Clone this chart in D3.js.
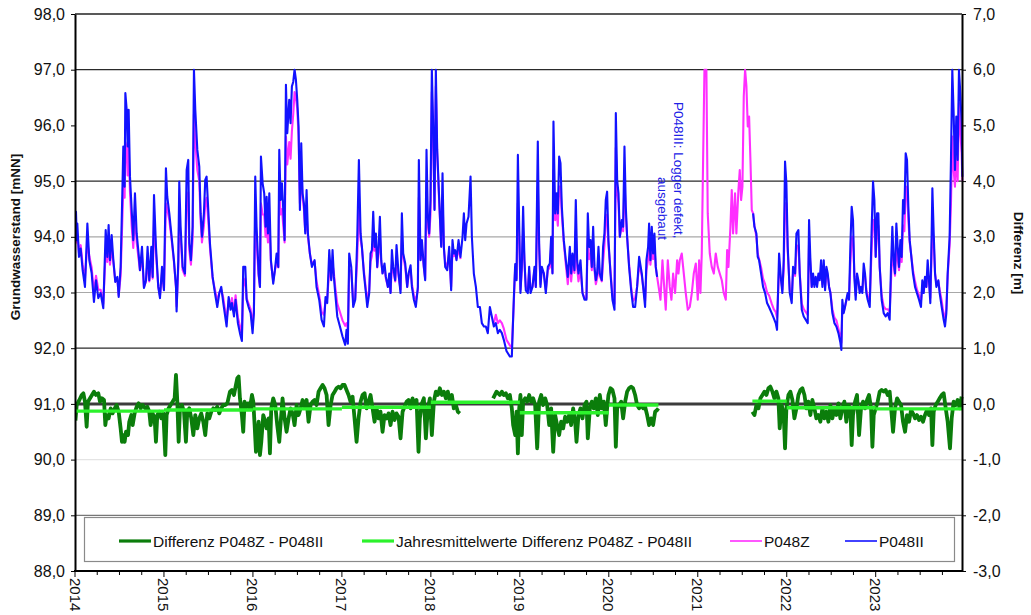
<!DOCTYPE html>
<html><head><meta charset="utf-8">
<script src="https://cdn.jsdelivr.net/npm/d3@7"></script>
<style>body{margin:0;background:#fff}svg{display:block;font-family:Arial,"Liberation Sans",sans-serif}</style>
</head><body><svg id="c" width="1031" height="615"></svg>
<script>
// ---------------- DATA ----------------
const leftTicks = [88,89,90,91,92,93,94,95,96,97,98];
const rightTicks = [-3,-2,-1,0,1,2,3,4,5,6,7];
const yearTicks = [2014,2015,2016,2017,2018,2019,2020,2021,2022,2023];
const leftTitle = "Grundwasserstand [mNN]";
const rightTitle = "Differenz [m]";
const legendLabels = ["Differenz P048Z - P048II","Jahresmittelwerte Differenz P048Z - P048II","P048Z","P048II"];
const noteLines = ["P048III: Logger defekt,","ausgebaut"];

// P048II (blue), [decimal year, mNN]
const p048II = [
[2014.000,93.90],[2014.011,94.45],[2014.020,93.94],[2014.026,94.24],[2014.045,93.64],[2014.064,93.79],[2014.086,93.40],[2014.112,93.10],[2014.139,94.24],[2014.161,93.58],[2014.187,93.35],[2014.213,92.83],[2014.236,93.22],[2014.262,92.90],[2014.288,92.99],[2014.318,92.72],[2014.345,94.12],[2014.363,93.64],[2014.378,94.21],[2014.393,93.58],[2014.412,94.03],[2014.431,93.58],[2014.453,93.19],[2014.476,93.28],[2014.491,92.92],[2014.513,93.46],[2014.532,94.78],[2014.543,95.62],[2014.558,94.90],[2014.566,96.58],[2014.581,96.28],[2014.592,95.62],[2014.603,96.28],[2014.618,95.08],[2014.637,94.48],[2014.655,93.94],[2014.674,94.78],[2014.693,94.06],[2014.715,93.70],[2014.730,93.40],[2014.753,93.82],[2014.775,93.08],[2014.798,93.22],[2014.816,93.82],[2014.835,93.22],[2014.858,93.82],[2014.873,93.28],[2014.888,94.75],[2014.910,93.82],[2014.936,93.10],[2014.955,92.90],[2014.978,93.46],
[2015.000,93.04],[2015.022,95.23],[2015.037,94.72],[2015.060,94.42],[2015.086,94.00],[2015.112,93.58],[2015.135,93.10],[2015.142,92.66],[2015.161,93.58],[2015.172,94.99],[2015.187,94.18],[2015.210,93.46],[2015.236,93.34],[2015.255,95.20],[2015.273,95.38],[2015.285,93.88],[2015.303,93.58],[2015.322,94.18],[2015.337,97.00],[2015.352,96.28],[2015.375,95.56],[2015.397,95.26],[2015.412,94.42],[2015.427,94.00],[2015.449,94.42],[2015.464,95.02],[2015.479,95.08],[2015.498,94.48],[2015.517,93.88],[2015.547,93.28],[2015.573,92.99],[2015.599,92.74],[2015.622,92.99],[2015.644,93.10],[2015.667,92.81],[2015.704,92.39],[2015.727,92.92],[2015.749,92.69],[2015.764,92.81],[2015.787,92.57],[2015.805,92.87],[2015.831,92.45],[2015.854,92.27],[2015.876,92.13],[2015.891,93.46],[2015.914,93.46],[2015.929,92.87],[2015.951,92.74],[2015.974,92.63],[2015.996,92.27],
[2016.011,92.63],[2016.026,95.08],[2016.041,94.18],[2016.064,93.34],[2016.079,93.10],[2016.090,95.44],[2016.109,94.96],[2016.127,94.78],[2016.142,94.18],[2016.154,94.72],[2016.169,94.06],[2016.184,94.78],[2016.202,93.58],[2016.228,93.16],[2016.247,93.40],[2016.266,93.70],[2016.285,93.46],[2016.296,95.56],[2016.311,94.66],[2016.326,94.96],[2016.341,94.48],[2016.356,93.94],[2016.371,96.73],[2016.386,95.86],[2016.408,96.46],[2016.423,96.04],[2016.438,96.70],[2016.453,96.78],[2016.468,97.00],[2016.483,96.82],[2016.498,96.46],[2016.513,95.98],[2016.528,94.48],[2016.543,95.68],[2016.558,94.78],[2016.573,94.60],[2016.588,94.06],[2016.603,94.84],[2016.618,94.06],[2016.640,93.70],[2016.663,93.46],[2016.678,93.52],[2016.693,93.58],[2016.715,93.10],[2016.745,92.87],[2016.772,92.51],[2016.798,92.39],[2016.816,92.92],[2016.835,92.81],[2016.858,93.76],[2016.880,93.22],[2016.895,93.76],[2016.910,93.28],[2016.925,92.99],[2016.948,92.57],[2016.978,92.39],
[2017.007,92.21],[2017.037,92.06],[2017.052,92.33],[2017.067,92.08],[2017.082,93.70],[2017.105,93.46],[2017.127,92.74],[2017.150,92.87],[2017.172,93.94],[2017.191,95.38],[2017.210,94.06],[2017.225,93.82],[2017.247,93.34],[2017.270,92.99],[2017.285,92.74],[2017.307,92.99],[2017.322,93.70],[2017.337,93.76],[2017.352,94.45],[2017.367,93.82],[2017.382,94.06],[2017.397,93.46],[2017.412,93.82],[2017.427,94.36],[2017.442,93.58],[2017.457,93.34],[2017.479,93.52],[2017.494,93.28],[2017.517,93.10],[2017.532,93.34],[2017.547,92.99],[2017.562,93.76],[2017.577,93.46],[2017.599,93.22],[2017.614,93.85],[2017.637,93.34],[2017.659,92.99],[2017.674,94.42],[2017.689,93.70],[2017.712,93.52],[2017.734,93.10],[2017.749,93.34],[2017.772,93.49],[2017.787,93.10],[2017.809,92.87],[2017.831,92.74],[2017.854,93.10],[2017.865,95.38],[2017.884,93.58],[2017.899,93.94],[2017.921,93.46],[2017.936,93.22],[2017.951,95.56],[2017.966,94.36],[2017.981,94.06],[2017.996,94.66],
[2018.011,97.00],[2018.026,95.98],[2018.041,94.48],[2018.056,97.00],[2018.071,95.56],[2018.094,94.66],[2018.116,93.82],[2018.131,95.14],[2018.146,93.82],[2018.161,93.46],[2018.184,93.40],[2018.206,93.82],[2018.228,93.04],[2018.243,93.94],[2018.258,93.70],[2018.273,93.76],[2018.288,93.58],[2018.311,93.94],[2018.333,93.64],[2018.356,94.00],[2018.371,94.42],[2018.386,93.94],[2018.401,94.24],[2018.423,94.36],[2018.446,95.08],[2018.461,94.00],[2018.483,93.34],[2018.506,93.10],[2018.528,92.74],[2018.551,92.74],[2018.573,92.45],[2018.596,92.39],[2018.618,92.39],[2018.640,92.27],[2018.663,92.74],[2018.685,92.57],[2018.708,92.39],[2018.730,92.45],[2018.753,92.27],[2018.775,92.33],[2018.798,92.27],[2018.820,92.15],[2018.850,91.95],[2018.888,91.85],[2018.910,91.85],[2018.933,92.92],[2018.948,93.51],[2018.963,93.22],[2018.978,95.47],[2018.993,94.18],
[2019.007,92.99],[2019.022,93.46],[2019.037,94.54],[2019.052,93.58],[2019.067,93.04],[2019.090,92.99],[2019.105,93.46],[2019.120,92.99],[2019.142,93.10],[2019.165,93.46],[2019.180,93.10],[2019.202,95.71],[2019.217,93.88],[2019.232,93.10],[2019.247,93.46],[2019.270,93.34],[2019.292,92.99],[2019.315,93.46],[2019.337,93.52],[2019.352,94.00],[2019.367,93.34],[2019.378,96.07],[2019.397,94.42],[2019.412,94.78],[2019.427,94.42],[2019.442,95.44],[2019.457,95.32],[2019.472,94.54],[2019.494,93.94],[2019.517,93.58],[2019.539,93.28],[2019.562,93.82],[2019.577,93.34],[2019.592,93.70],[2019.614,93.40],[2019.629,94.66],[2019.644,93.58],[2019.659,93.34],[2019.682,93.58],[2019.704,92.99],[2019.727,92.87],[2019.749,92.87],[2019.764,94.42],[2019.779,93.82],[2019.794,93.94],[2019.809,93.46],[2019.824,94.18],[2019.839,93.46],[2019.854,93.22],[2019.869,93.34],[2019.884,93.82],[2019.899,93.34],[2019.921,93.22],[2019.936,93.82],[2019.951,94.06],[2019.966,94.66],[2019.981,94.81],[2019.996,93.94],
[2020.019,93.34],[2020.041,92.87],[2020.064,92.69],[2020.079,96.22],[2020.094,95.02],[2020.109,94.78],[2020.124,94.00],[2020.146,94.30],[2020.161,94.18],[2020.176,95.62],[2020.191,94.54],[2020.206,94.00],[2020.228,93.46],[2020.251,93.04],[2020.273,92.74],[2020.296,92.74],[2020.318,93.10],[2020.341,93.64],[2020.371,93.34],[2020.386,93.10],[2020.408,92.74],[2020.423,93.58],[2020.442,93.82],[2020.453,94.24],[2020.468,93.58],[2020.483,94.18],[2020.498,93.70],[2020.513,94.06],[2020.528,93.46],[2020.543,93.28],[2020.560,null],
[2021.622,94.42],[2021.637,94.18],[2021.659,94.06],[2021.674,93.64],[2021.689,93.58],[2021.712,93.34],[2021.734,93.10],[2021.757,92.99],[2021.779,92.81],[2021.801,92.74],[2021.831,92.63],[2021.854,92.54],[2021.876,92.45],[2021.891,92.33],[2021.914,93.70],[2021.936,93.22],[2021.951,92.99],[2021.966,93.58],[2021.981,95.35],[2021.996,94.96],
[2022.011,93.82],[2022.034,92.99],[2022.056,92.81],[2022.071,93.46],[2022.094,93.34],[2022.109,94.06],[2022.131,94.12],[2022.146,93.34],[2022.169,92.69],[2022.191,92.57],[2022.213,92.51],[2022.236,92.45],[2022.251,94.30],[2022.266,93.58],[2022.281,93.10],[2022.296,93.34],[2022.311,93.10],[2022.326,93.28],[2022.341,93.10],[2022.356,93.34],[2022.371,93.22],[2022.386,93.58],[2022.401,93.10],[2022.416,93.58],[2022.431,93.04],[2022.446,93.46],[2022.461,93.34],[2022.476,93.10],[2022.491,92.99],[2022.513,92.63],[2022.536,92.45],[2022.558,92.39],[2022.581,92.27],[2022.603,92.10],[2022.614,91.97],[2022.625,92.87],[2022.640,92.63],[2022.655,92.74],[2022.670,92.87],[2022.685,92.99],[2022.700,92.87],[2022.715,93.82],[2022.730,94.54],[2022.745,94.30],[2022.760,93.28],[2022.775,92.87],[2022.790,93.34],[2022.805,93.22],[2022.820,92.99],[2022.835,93.10],[2022.850,92.99],[2022.865,93.52],[2022.880,93.34],[2022.895,92.99],[2022.910,92.87],[2022.933,92.74],[2022.955,94.18],[2022.970,94.99],[2022.985,94.66],
[2023.000,93.64],[2023.015,94.42],[2023.030,94.42],[2023.045,93.46],[2023.067,92.87],[2023.090,92.63],[2023.112,92.57],[2023.135,92.63],[2023.157,92.51],[2023.172,93.46],[2023.187,94.18],[2023.202,93.58],[2023.217,93.34],[2023.232,94.24],[2023.247,93.82],[2023.262,93.46],[2023.277,93.94],[2023.292,93.64],[2023.307,94.66],[2023.322,94.42],[2023.337,95.50],[2023.352,95.38],[2023.367,94.54],[2023.382,93.94],[2023.397,93.70],[2023.419,93.34],[2023.442,93.10],[2023.464,92.99],[2023.487,92.87],[2023.509,92.74],[2023.524,93.22],[2023.539,92.99],[2023.554,93.28],[2023.569,93.10],[2023.584,93.58],[2023.599,93.22],[2023.614,92.81],[2023.629,94.06],[2023.637,94.87],[2023.652,94.06],[2023.667,93.34],[2023.682,93.10],[2023.704,93.22],[2023.719,92.99],[2023.742,92.74],[2023.764,92.51],[2023.779,92.39],[2023.794,92.63],[2023.809,93.34],[2023.831,94.00],[2023.846,95.38],[2023.861,97.00],[2023.876,96.22],[2023.891,95.20],[2023.906,96.16],[2023.921,95.38],[2023.936,97.00],[2023.951,96.58],[2023.966,96.04],[2023.974,95.08]
];

// P048Z (magenta), [decimal year, mNN]
const p048Z = [
[2014.000,93.85],[2014.011,94.10],[2014.020,93.90],[2014.026,94.05],[2014.045,93.70],[2014.064,93.85],[2014.086,93.50],[2014.112,93.25],[2014.139,93.90],[2014.161,93.65],[2014.187,93.45],[2014.213,93.00],[2014.236,93.30],[2014.262,93.05],[2014.288,93.05],[2014.318,92.80],[2014.345,93.75],[2014.363,93.55],[2014.378,93.95],[2014.393,93.50],[2014.412,93.80],[2014.431,93.55],[2014.453,93.20],[2014.476,93.25],[2014.491,92.95],[2014.513,93.30],[2014.532,94.30],[2014.543,94.90],[2014.558,94.70],[2014.566,95.70],[2014.581,95.60],[2014.592,95.10],[2014.603,95.60],[2014.618,94.80],[2014.637,94.20],[2014.655,93.80],[2014.674,94.40],[2014.693,93.90],[2014.715,93.60],[2014.730,93.40],[2014.753,93.65],[2014.775,93.10],[2014.798,93.20],[2014.816,93.60],[2014.835,93.20],[2014.858,93.60],[2014.873,93.25],[2014.888,94.30],[2014.910,93.70],[2014.936,93.10],[2014.955,92.95],[2014.978,93.35],
[2015.000,93.05],[2015.022,94.60],[2015.037,94.50],[2015.060,94.30],[2015.086,93.95],[2015.112,93.55],[2015.135,93.10],[2015.142,92.75],[2015.161,93.45],[2015.172,94.40],[2015.187,94.00],[2015.210,93.40],[2015.236,93.30],[2015.255,94.60],[2015.273,94.80],[2015.285,93.75],[2015.303,93.50],[2015.322,93.95],[2015.337,96.20],[2015.352,95.70],[2015.375,95.20],[2015.397,95.00],[2015.412,94.30],[2015.427,93.90],[2015.449,94.20],[2015.464,94.60],[2015.479,94.70],[2015.498,94.30],[2015.517,93.80],[2015.547,93.25],[2015.573,93.05],[2015.599,92.85],[2015.622,93.00],[2015.644,93.05],[2015.667,92.90],[2015.704,92.50],[2015.727,92.85],[2015.749,92.75],[2015.764,92.90],[2015.787,92.65],[2015.805,92.95],[2015.831,92.55],[2015.854,92.40],[2015.876,92.20],[2015.891,93.10],[2015.914,93.25],[2015.929,92.90],[2015.951,92.80],[2015.974,92.70],[2015.996,92.40],
[2016.011,92.70],[2016.026,94.40],[2016.041,93.90],[2016.064,93.30],[2016.079,93.10],[2016.090,94.60],[2016.109,94.40],[2016.127,94.40],[2016.142,94.00],[2016.154,94.20],[2016.169,93.90],[2016.184,94.30],[2016.202,93.55],[2016.228,93.20],[2016.247,93.40],[2016.266,93.55],[2016.285,93.45],[2016.296,94.90],[2016.311,94.40],[2016.326,94.50],[2016.341,94.20],[2016.356,93.90],[2016.371,95.80],[2016.386,95.30],[2016.408,95.70],[2016.423,95.40],[2016.438,95.90],[2016.453,96.20],[2016.468,96.60],[2016.483,96.50],[2016.498,96.30],[2016.513,95.80],[2016.528,94.60],[2016.543,95.20],[2016.558,94.70],[2016.573,94.50],[2016.588,94.10],[2016.603,94.40],[2016.618,94.00],[2016.640,93.70],[2016.663,93.50],[2016.678,93.55],[2016.693,93.55],[2016.715,93.20],[2016.745,92.95],[2016.772,92.65],[2016.798,92.60],[2016.816,92.85],[2016.835,92.90],[2016.858,93.40],[2016.880,93.25],[2016.895,93.50],[2016.910,93.35],[2016.925,93.10],[2016.948,92.80],[2016.978,92.65],
[2017.007,92.50],[2017.037,92.40],[2017.052,92.45],[2017.067,92.35],[2017.082,93.40],[2017.105,93.40],[2017.127,92.85],[2017.150,92.90],[2017.172,93.60],[2017.191,94.60],[2017.210,93.95],[2017.225,93.80],[2017.247,93.40],[2017.270,93.05],[2017.285,92.85],[2017.307,93.05],[2017.322,93.55],[2017.337,93.65],[2017.352,93.95],[2017.367,93.75],[2017.382,93.90],[2017.397,93.45],[2017.412,93.70],[2017.427,94.00],[2017.442,93.55],[2017.457,93.35],[2017.479,93.45],[2017.494,93.25],[2017.517,93.10],[2017.532,93.25],[2017.547,93.00],[2017.562,93.50],[2017.577,93.40],[2017.599,93.20],[2017.614,93.60],[2017.637,93.30],[2017.659,93.05],[2017.674,94.00],[2017.689,93.65],[2017.712,93.45],[2017.734,93.10],[2017.749,93.30],[2017.772,93.40],[2017.787,93.15],[2017.809,92.95],[2017.831,92.85],[2017.854,93.05],[2017.865,94.70],[2017.884,93.60],[2017.899,93.80],[2017.921,93.45],[2017.936,93.25],[2017.951,94.80],[2017.966,94.20],[2017.981,94.00],[2017.996,94.40],
[2018.011,96.60],[2018.026,95.80],[2018.041,94.50],[2018.056,96.70],[2018.071,95.50],[2018.094,94.60],[2018.116,93.85],[2018.131,94.70],[2018.146,93.80],[2018.161,93.55],[2018.184,93.45],[2018.206,93.70],[2018.228,93.10],[2018.243,93.75],[2018.258,93.65],[2018.273,93.70],[2018.288,93.60],[2018.311,93.80],[2018.333,93.60],[2018.345,null],
[2018.708,92.45],[2018.730,92.60],[2018.753,92.45],[2018.775,92.50],[2018.798,92.45],[2018.820,92.35],[2018.850,92.15],[2018.888,92.05],[2018.910,92.00],[2018.933,92.85],[2018.948,93.45],[2018.963,93.25],[2018.978,94.60],[2018.993,94.00],
[2019.007,93.05],[2019.022,93.40],[2019.037,94.10],[2019.052,93.55],[2019.067,93.10],[2019.090,93.05],[2019.105,93.40],[2019.120,93.05],[2019.142,93.10],[2019.165,93.40],[2019.180,93.10],[2019.202,94.90],[2019.217,93.80],[2019.232,93.15],[2019.247,93.40],[2019.270,93.35],[2019.292,93.05],[2019.315,93.40],[2019.337,93.45],[2019.352,93.80],[2019.367,93.35],[2019.378,95.20],[2019.397,94.30],[2019.412,94.50],[2019.427,94.20],[2019.442,94.90],[2019.457,94.90],[2019.472,94.40],[2019.494,93.90],[2019.517,93.50],[2019.539,93.15],[2019.562,93.60],[2019.577,93.20],[2019.592,93.50],[2019.614,93.35],[2019.629,94.10],[2019.644,93.45],[2019.659,93.20],[2019.682,93.40],[2019.704,93.00],[2019.727,92.90],[2019.749,92.90],[2019.764,94.00],[2019.779,93.60],[2019.794,93.70],[2019.809,93.40],[2019.824,93.85],[2019.839,93.40],[2019.854,93.15],[2019.869,93.25],[2019.884,93.55],[2019.899,93.30],[2019.921,93.20],[2019.936,93.55],[2019.951,93.85],[2019.966,94.30],[2019.981,94.40],[2019.996,93.85],
[2020.019,93.40],[2020.041,92.95],[2020.064,92.80],[2020.079,95.60],[2020.094,94.80],[2020.109,94.60],[2020.124,94.00],[2020.146,94.20],[2020.161,94.10],[2020.176,95.00],[2020.191,94.40],[2020.206,94.00],[2020.228,93.50],[2020.251,93.10],[2020.273,92.85],[2020.296,92.90],[2020.318,93.10],[2020.341,93.50],[2020.371,93.30],[2020.386,93.10],[2020.408,92.85],[2020.423,93.40],[2020.442,93.60],[2020.453,93.80],[2020.468,93.50],[2020.483,93.80],[2020.498,93.60],[2020.513,93.80],[2020.528,93.45],[2020.543,93.28],
[2020.566,93.04],[2020.581,92.87],[2020.603,93.58],[2020.625,93.04],[2020.640,92.69],[2020.663,93.58],[2020.685,93.10],[2020.704,92.87],[2020.723,93.34],[2020.745,92.99],[2020.768,93.58],[2020.783,93.34],[2020.798,93.58],[2020.820,93.70],[2020.843,93.34],[2020.865,92.99],[2020.888,92.69],[2020.910,92.74],[2020.933,92.99],[2020.955,93.34],[2020.978,93.52],
[2021.000,92.87],[2021.015,93.58],[2021.030,92.99],[2021.045,93.70],[2021.060,95.38],[2021.075,97.00],[2021.097,97.00],[2021.112,94.42],[2021.135,93.70],[2021.157,93.46],[2021.180,93.34],[2021.202,93.70],[2021.225,93.46],[2021.247,93.34],[2021.270,93.22],[2021.292,92.99],[2021.315,92.87],[2021.330,93.76],[2021.345,93.46],[2021.367,94.18],[2021.382,94.84],[2021.397,94.06],[2021.419,94.78],[2021.434,94.06],[2021.457,94.84],[2021.472,95.20],[2021.487,94.66],[2021.502,94.90],[2021.517,96.52],[2021.532,97.00],[2021.547,96.70],[2021.562,95.98],[2021.577,96.16],[2021.592,95.38],[2021.607,94.48],
[2021.622,94.42],[2021.637,94.20],[2021.659,94.00],[2021.674,93.70],[2021.689,93.60],[2021.712,93.45],[2021.734,93.25],[2021.757,93.15],[2021.779,93.00],[2021.801,92.95],[2021.831,92.80],[2021.854,92.70],[2021.876,92.65],[2021.891,92.55],[2021.914,93.40],[2021.936,93.25],[2021.951,93.05],[2021.966,93.40],[2021.981,94.60],[2021.996,94.60],
[2022.011,93.75],[2022.034,93.05],[2022.056,92.90],[2022.071,93.35],[2022.094,93.30],[2022.109,93.80],[2022.131,93.85],[2022.146,93.35],[2022.169,92.80],[2022.191,92.70],[2022.213,92.65],[2022.236,92.60],[2022.251,93.90],[2022.266,93.50],[2022.281,93.10],[2022.296,93.30],[2022.311,93.15],[2022.326,93.25],[2022.341,93.15],[2022.356,93.30],[2022.371,93.25],[2022.386,93.40],[2022.401,93.15],[2022.416,93.40],[2022.431,93.10],[2022.446,93.35],[2022.461,93.30],[2022.476,93.10],[2022.491,93.00],[2022.513,92.70],[2022.536,92.55],[2022.558,92.50],[2022.581,92.35],[2022.603,92.20],[2022.614,92.10],[2022.625,92.70],[2022.640,92.65],[2022.655,92.75],[2022.670,92.85],[2022.685,92.95],[2022.700,92.90],[2022.715,93.50],[2022.730,94.00],[2022.745,94.00],[2022.760,93.35],[2022.775,92.95],[2022.790,93.25],[2022.805,93.20],[2022.820,93.05],[2022.835,93.10],[2022.850,93.05],[2022.865,93.35],[2022.880,93.30],[2022.895,93.05],[2022.910,92.95],[2022.933,92.85],[2022.955,93.80],[2022.970,94.30],[2022.985,94.30],
[2023.000,93.65],[2023.015,94.10],[2023.030,94.20],[2023.045,93.45],[2023.067,92.95],[2023.090,92.75],[2023.112,92.70],[2023.135,92.70],[2023.157,92.65],[2023.172,93.20],[2023.187,93.80],[2023.202,93.50],[2023.217,93.30],[2023.232,93.80],[2023.247,93.60],[2023.262,93.40],[2023.277,93.70],[2023.292,93.55],[2023.307,94.20],[2023.322,94.10],[2023.337,94.80],[2023.352,94.90],[2023.367,94.30],[2023.382,93.90],[2023.397,93.70],[2023.419,93.40],[2023.442,93.20],[2023.464,93.05],[2023.487,92.95],[2023.509,92.85],[2023.524,93.10],[2023.539,93.00],[2023.554,93.20],[2023.569,93.10],[2023.584,93.35],[2023.599,93.20],[2023.614,92.90],[2023.629,93.70],[2023.637,94.20],[2023.652,93.90],[2023.667,93.35],[2023.682,93.15],[2023.704,93.20],[2023.719,93.05],[2023.742,92.85],[2023.764,92.60],[2023.779,92.55],[2023.794,92.70],[2023.809,93.30],[2023.831,93.85],[2023.846,94.60],[2023.861,95.80],[2023.876,95.20],[2023.891,94.90],[2023.906,95.60],[2023.921,95.00],[2023.936,96.40],[2023.951,95.90],[2023.966,95.50],[2023.974,95.00]
];

// Differenz P048Z - P048II (dark green), [decimal year, m]
const differenz = [
[2014.005,-0.30],[2014.019,-0.02],[2014.049,0.07],[2014.075,0.16],[2014.094,0.19],[2014.112,0.04],[2014.131,-0.41],[2014.146,0.04],[2014.169,0.10],[2014.191,0.16],[2014.213,0.22],[2014.236,0.16],[2014.262,0.19],[2014.281,0.04],[2014.303,0.10],[2014.326,0.07],[2014.341,-0.38],[2014.356,-0.20],[2014.378,-0.26],[2014.401,-0.08],[2014.423,-0.17],[2014.446,-0.08],[2014.468,-0.02],[2014.491,-0.14],[2014.513,-0.44],[2014.528,-0.68],[2014.543,-0.56],[2014.558,-0.68],[2014.573,-0.50],[2014.596,-0.56],[2014.610,-0.32],[2014.633,-0.20],[2014.648,-0.38],[2014.670,-0.17],[2014.693,-0.05],[2014.715,0.01],[2014.738,-0.08],[2014.760,-0.02],[2014.790,-0.08],[2014.813,-0.05],[2014.835,-0.14],[2014.850,-0.38],[2014.873,-0.17],[2014.895,-0.26],[2014.910,-0.68],[2014.925,-0.20],[2014.948,-0.14],[2014.970,-0.26],[2014.993,-0.17],
[2015.015,-0.92],[2015.030,-0.20],[2015.052,-0.08],[2015.075,-0.02],[2015.097,0.04],[2015.120,0.10],[2015.135,0.52],[2015.150,0.04],[2015.165,-0.68],[2015.180,-0.08],[2015.202,-0.02],[2015.225,-0.14],[2015.247,-0.68],[2015.262,-0.14],[2015.285,-0.08],[2015.307,-0.26],[2015.330,-0.56],[2015.352,-0.20],[2015.375,-0.44],[2015.397,-0.26],[2015.419,-0.17],[2015.442,-0.32],[2015.464,-0.56],[2015.487,-0.17],[2015.509,-0.26],[2015.532,-0.14],[2015.554,-0.08],[2015.577,-0.11],[2015.599,-0.05],[2015.622,-0.17],[2015.644,-0.08],[2015.667,-0.02],[2015.689,-0.02],[2015.712,0.01],[2015.742,0.22],[2015.764,0.25],[2015.787,0.16],[2015.809,0.34],[2015.824,0.46],[2015.839,0.49],[2015.854,0.10],[2015.876,-0.20],[2015.891,-0.50],[2015.906,0.04],[2015.921,-0.08],[2015.944,0.01],[2015.966,-0.08],[2015.989,0.16],
[2016.004,0.04],[2016.019,-0.38],[2016.034,-0.86],[2016.049,-0.56],[2016.064,-0.32],[2016.079,-0.92],[2016.094,-0.68],[2016.116,-0.20],[2016.139,-0.32],[2016.154,-0.44],[2016.176,-0.26],[2016.191,-0.89],[2016.206,-0.08],[2016.228,0.10],[2016.251,-0.02],[2016.273,-0.38],[2016.296,-0.68],[2016.318,-0.20],[2016.333,0.10],[2016.356,-0.26],[2016.378,-0.50],[2016.401,-0.26],[2016.423,-0.08],[2016.446,-0.17],[2016.468,-0.38],[2016.491,-0.02],[2016.513,-0.20],[2016.536,-0.08],[2016.558,0.07],[2016.581,-0.05],[2016.603,0.07],[2016.625,-0.32],[2016.648,-0.02],[2016.670,0.04],[2016.693,0.07],[2016.715,-0.02],[2016.738,0.22],[2016.760,0.28],[2016.783,0.34],[2016.805,0.28],[2016.828,0.16],[2016.850,-0.38],[2016.873,-0.02],[2016.895,0.16],[2016.918,0.22],[2016.940,0.28],[2016.963,0.31],[2016.985,0.28],
[2017.007,0.34],[2017.030,0.34],[2017.052,0.25],[2017.075,0.16],[2017.097,0.04],[2017.120,0.13],[2017.142,-0.26],[2017.165,-0.68],[2017.187,-0.26],[2017.210,0.04],[2017.232,0.16],[2017.255,0.19],[2017.277,-0.08],[2017.300,0.04],[2017.322,0.16],[2017.345,-0.08],[2017.367,-0.32],[2017.390,-0.08],[2017.412,-0.26],[2017.434,-0.14],[2017.457,-0.50],[2017.479,-0.20],[2017.502,-0.26],[2017.524,-0.17],[2017.547,-0.38],[2017.569,-0.14],[2017.592,-0.29],[2017.614,-0.17],[2017.637,-0.23],[2017.659,-0.62],[2017.682,-0.14],[2017.704,-0.05],[2017.727,0.04],[2017.749,0.07],[2017.772,-0.08],[2017.794,0.10],[2017.816,-0.02],[2017.839,0.07],[2017.861,-0.86],[2017.876,-0.26],[2017.899,0.01],[2017.921,0.10],[2017.944,-0.62],[2017.966,-0.08],[2017.989,0.10],
[2018.011,-0.56],[2018.034,0.04],[2018.056,0.22],[2018.079,0.16],[2018.101,0.28],[2018.124,0.16],[2018.146,0.22],[2018.169,0.10],[2018.191,0.22],[2018.213,0.04],[2018.236,0.16],[2018.258,-0.08],[2018.281,-0.02],[2018.303,-0.14],[2018.326,-0.17],[2018.330,null],
[2018.700,0.10],[2018.738,0.22],[2018.775,0.16],[2018.798,0.22],[2018.820,0.16],[2018.843,0.19],[2018.865,0.10],[2018.888,0.16],[2018.910,-0.08],[2018.925,-0.38],[2018.948,-0.56],[2018.963,-0.14],[2018.978,-0.89],[2018.993,-0.08],
[2019.007,0.16],[2019.022,-0.56],[2019.037,0.04],[2019.060,0.10],[2019.082,0.04],[2019.105,0.16],[2019.127,0.04],[2019.150,0.10],[2019.172,-0.02],[2019.195,-0.80],[2019.217,0.04],[2019.240,0.16],[2019.262,-0.02],[2019.285,0.10],[2019.307,-0.02],[2019.330,-0.38],[2019.352,-0.08],[2019.375,-0.86],[2019.397,-0.20],[2019.419,-0.38],[2019.442,-0.56],[2019.464,-0.32],[2019.487,-0.44],[2019.509,-0.23],[2019.532,-0.32],[2019.554,-0.20],[2019.577,-0.38],[2019.599,-0.08],[2019.622,-0.32],[2019.637,-0.68],[2019.659,-0.20],[2019.682,-0.08],[2019.704,-0.26],[2019.727,-0.02],[2019.749,0.04],[2019.764,-0.62],[2019.787,-0.08],[2019.809,0.04],[2019.831,-0.08],[2019.854,0.10],[2019.876,-0.20],[2019.899,0.16],[2019.921,-0.08],[2019.944,0.04],[2019.966,-0.38],[2019.981,-0.08],[2019.996,0.16],
[2020.019,0.28],[2020.041,0.25],[2020.064,0.10],[2020.079,-0.77],[2020.094,-0.08],[2020.116,-0.02],[2020.139,0.04],[2020.161,-0.26],[2020.184,0.04],[2020.206,0.22],[2020.228,0.28],[2020.251,0.31],[2020.273,0.28],[2020.296,0.16],[2020.318,-0.02],[2020.341,-0.08],[2020.363,-0.02],[2020.386,-0.08],[2020.408,-0.05],[2020.431,-0.20],[2020.453,-0.38],[2020.476,-0.26],[2020.498,-0.38],[2020.521,-0.14],[2020.543,-0.11],[2020.558,-0.08],[2020.560,null],
[2021.614,-0.14],[2021.637,-0.20],[2021.659,-0.02],[2021.682,-0.08],[2021.704,0.10],[2021.727,0.16],[2021.749,0.22],[2021.772,0.16],[2021.794,0.28],[2021.816,0.31],[2021.839,0.22],[2021.861,0.10],[2021.884,0.22],[2021.906,0.10],[2021.921,-0.44],[2021.944,-0.02],[2021.966,-0.20],[2021.981,-0.80],[2021.996,-0.08],
[2022.019,0.16],[2022.041,0.22],[2022.064,0.07],[2022.086,-0.26],[2022.109,-0.08],[2022.131,0.16],[2022.154,0.25],[2022.176,0.28],[2022.199,0.16],[2022.221,-0.08],[2022.243,0.04],[2022.266,-0.20],[2022.288,0.07],[2022.311,-0.08],[2022.333,-0.26],[2022.356,-0.20],[2022.378,-0.32],[2022.401,-0.08],[2022.423,-0.26],[2022.446,-0.14],[2022.468,-0.32],[2022.491,-0.02],[2022.513,-0.26],[2022.536,-0.08],[2022.558,-0.20],[2022.581,0.01],[2022.603,-0.26],[2022.625,-0.08],[2022.648,0.04],[2022.670,-0.32],[2022.693,-0.02],[2022.715,-0.08],[2022.730,-0.74],[2022.745,-0.20],[2022.768,0.04],[2022.790,0.16],[2022.813,-0.56],[2022.835,-0.08],[2022.858,0.04],[2022.880,-0.08],[2022.903,0.07],[2022.925,0.16],[2022.948,-0.08],[2022.963,-0.77],[2022.978,-0.20],
[2023.000,-0.08],[2023.022,0.04],[2023.045,0.22],[2023.067,0.25],[2023.090,0.22],[2023.112,0.25],[2023.135,0.16],[2023.157,0.22],[2023.180,-0.20],[2023.195,-0.50],[2023.217,-0.08],[2023.240,0.10],[2023.262,0.04],[2023.285,-0.02],[2023.307,-0.32],[2023.330,-0.50],[2023.352,-0.20],[2023.375,-0.32],[2023.397,-0.11],[2023.419,-0.17],[2023.442,-0.26],[2023.464,-0.20],[2023.487,-0.29],[2023.509,-0.23],[2023.532,-0.32],[2023.554,-0.20],[2023.577,-0.11],[2023.599,-0.20],[2023.622,-0.08],[2023.637,-0.74],[2023.652,-0.14],[2023.674,-0.02],[2023.697,0.04],[2023.719,0.10],[2023.742,0.16],[2023.764,0.19],[2023.787,-0.08],[2023.809,-0.32],[2023.835,-0.80],[2023.854,-0.26],[2023.876,0.04],[2023.899,-0.02],[2023.921,0.07],[2023.944,-0.08],[2023.966,0.13]
];

// Jahresmittelwerte Differenz (bright green): value and covered period per year
const meanYears  = [2014,2015,2016,2017,2018,2019,2020,2021,2022,2023];
const meanValues = [-0.13,-0.11,-0.09,-0.06,0.03,-0.16,-0.02,0.05,-0.07,-0.09];
const meanFrom   = [2014.000,2015.000,2016.000,2017.000,2018.000,2019.000,2020.000,2021.614,2022.000,2023.000];
const meanTo     = [2015.000,2016.000,2017.000,2018.000,2019.000,2020.000,2020.558,2022.000,2023.000,2023.974];

// ---------------- CHART ----------------
const svg = d3.select("#c");
const L = 75, R = 962, T = 14, B = 571;
const x  = d3.scaleLinear().domain([2014, 2023.97]).range([L, R]);
const yL = d3.scaleLinear().domain([88, 98]).range([B, T]);
const yR = d3.scaleLinear().domain([-3, 7]).range([B, T]);
const fmt = v => d3.format(".1f")(v).replace(".", ",").replace("−", "-");

svg.append("rect").attr("width",1031).attr("height",615).attr("fill","#fff");

// gridlines
const gridStyle = {97:["#2a2a2a",1.2],95:["#2a2a2a",1.2],94:["#a8a8a8",1.2],93:["#a8a8a8",1.2],92:["#2a2a2a",1.2],90:["#e4e4e4",1.2],89:["#777",1.2]};
svg.append("g").selectAll("line").data(leftTicks.filter(v => gridStyle[v])).join("line")
  .attr("x1", L).attr("x2", R).attr("y1", d => yL(d)).attr("y2", d => yL(d))
  .attr("stroke", d => gridStyle[d][0]).attr("stroke-width", d => gridStyle[d][1]);
// zero line of Differenz
svg.append("line").attr("x1", L).attr("x2", R).attr("y1", yR(0)).attr("y2", yR(0))
  .attr("stroke", "#3c3c3c").attr("stroke-width", 3);

svg.append("clipPath").attr("id","pa").append("rect")
  .attr("x", L).attr("y", T - 2).attr("width", R - L + 2).attr("height", B - T + 2);
const plot = svg.append("g").attr("clip-path","url(#pa)");

const lineL = d3.line().defined(d => d[1] !== null).x(d => x(d[0])).y(d => yL(d[1]));
const lineR = d3.line().defined(d => d[1] !== null).x(d => x(d[0])).y(d => yR(d[1]));

const cDiff = "#0b7d0b", cMean = "#2cf22c", cZ = "#ff2eff", cII = "#1212ff";

plot.append("path").datum(differenz).attr("d", lineR).attr("fill","none")
  .attr("stroke", cDiff).attr("stroke-width", 3.8).attr("stroke-linejoin","round");

plot.append("g").selectAll("line").data(meanYears).join("line")
  .attr("x1", (d,i) => x(meanFrom[i])).attr("x2", (d,i) => x(meanTo[i]))
  .attr("y1", (d,i) => yR(meanValues[i])).attr("y2", (d,i) => yR(meanValues[i]))
  .attr("stroke", cMean).attr("stroke-width", 3.4);

plot.append("path").datum(p048Z).attr("d", lineL).attr("fill","none")
  .attr("stroke", cZ).attr("stroke-width", 2.1).attr("stroke-linejoin","round");
plot.append("path").datum(p048II).attr("d", lineL).attr("fill","none")
  .attr("stroke", cII).attr("stroke-width", 2.1).attr("stroke-linejoin","round");

// frame top
svg.append("line").attr("x1", L).attr("x2", R).attr("y1", T).attr("y2", T).attr("stroke","#222").attr("stroke-width",1.5);

// left axis
const axL = svg.append("g").attr("transform", `translate(${L},0)`)
  .call(d3.axisLeft(yL).tickValues(leftTicks).tickFormat(fmt).tickSize(4).tickSizeOuter(0).tickPadding(6));
axL.select(".domain").attr("stroke","#000").attr("stroke-width",2);
axL.selectAll(".tick line").attr("stroke","#000");
axL.selectAll("text").attr("font-size","16px").attr("fill","#111").attr("font-family","Arial, 'Liberation Sans', sans-serif");

// right axis
const axR = svg.append("g").attr("transform", `translate(${R},0)`)
  .call(d3.axisRight(yR).tickValues(rightTicks).tickFormat(fmt).tickSize(4).tickSizeOuter(0).tickPadding(7));
axR.select(".domain").attr("stroke","#000").attr("stroke-width",2);
axR.selectAll(".tick line").attr("stroke","#000");
axR.selectAll("text").attr("font-size","16px").attr("fill","#111").attr("font-family","Arial, 'Liberation Sans', sans-serif");

// bottom axis
const axB = svg.append("g");
axB.append("line").attr("x1", L - 1).attr("x2", R + 1).attr("y1", B).attr("y2", B).attr("stroke","#000").attr("stroke-width",2);
const quarters = d3.range(2014, 2024, 0.25).filter(v => x(v) <= R);
axB.selectAll("line.mt").data(quarters).join("line").attr("class","mt")
  .attr("x1", d => x(d)).attr("x2", d => x(d)).attr("y1", B)
  .attr("y2", d => B + (Number.isInteger(d) ? 6 : 4)).attr("stroke","#000").attr("stroke-width",1);
axB.selectAll("text").data(yearTicks).join("text")
  .attr("transform", d => `translate(${x(d)},${B + 7}) rotate(90)`)
  .attr("text-anchor","start").attr("dominant-baseline","central")
  .attr("font-size","15px").attr("fill","#111").text(d => d);

// axis titles
svg.append("text").attr("transform","translate(15,237) rotate(-90)")
  .attr("text-anchor","middle").attr("dominant-baseline","central")
  .attr("font-size","13.5px").attr("font-weight","bold").attr("fill","#111").text(leftTitle);
svg.append("text").attr("transform","translate(1018,253) rotate(90)")
  .attr("text-anchor","middle").attr("dominant-baseline","central")
  .attr("font-size","13.5px").attr("font-weight","bold").attr("fill","#111").text(rightTitle);

// annotation
const noteX = [678, 662], noteY = [102, 177];
svg.append("g").selectAll("text").data(noteLines).join("text")
  .attr("transform", (d,i) => `translate(${noteX[i]},${noteY[i]}) rotate(90)`)
  .attr("text-anchor","start").attr("dominant-baseline","central")
  .attr("font-size","13.5px").attr("fill","#2020e6").text(d => d);

// legend
const lg = svg.append("g");
lg.append("rect").attr("x",84.5).attr("y",517.5).attr("width",870).attr("height",44)
  .attr("fill","#fff").attr("stroke","#8a8a8a").attr("stroke-width",1.2);
const lgColors = [cDiff, cMean, cZ, cII];
const lgWidths = [3.2, 3.2, 1.6, 1.6];
const lgX = [119, 362, 730, 845];
const lgY = 541;
lgX.forEach((lx, i) => {
  lg.append("line").attr("x1", lx).attr("x2", lx + 32).attr("y1", lgY).attr("y2", lgY)
    .attr("stroke", lgColors[i]).attr("stroke-width", lgWidths[i]);
  lg.append("text").attr("x", lx + 34).attr("y", lgY).attr("dominant-baseline","central")
    .attr("font-size","15.5px").attr("fill","#111").text(legendLabels[i]);
});
</script>
</body></html>
